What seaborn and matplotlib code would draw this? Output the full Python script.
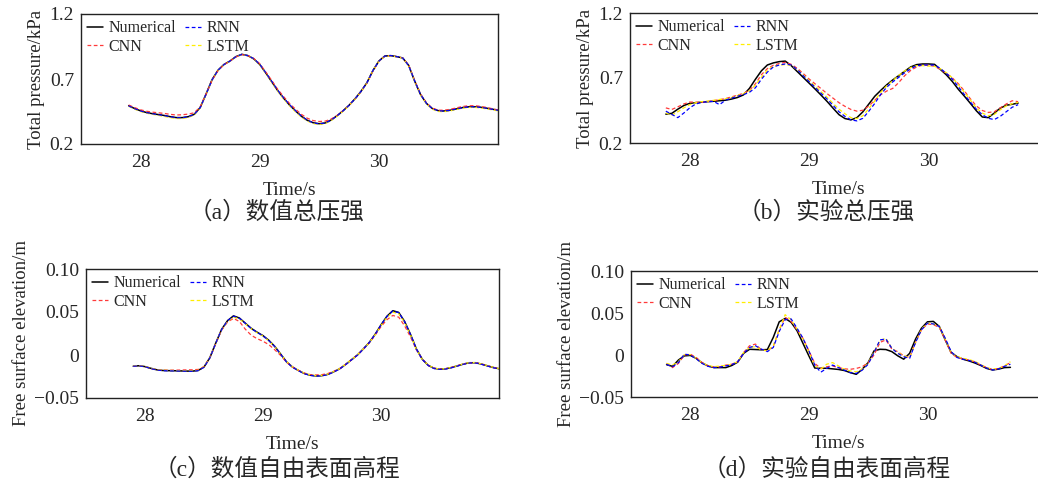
import numpy as np
import pandas as pd
import matplotlib
matplotlib.use("Agg")
import matplotlib.pyplot as plt
import seaborn as sns

# time grids (s)
time_num = np.round(np.arange(27.90, 31.001, 0.05), 2)
time_exp_p = np.round(np.arange(27.80, 30.751, 0.05), 2)
time_exp_h = np.round(np.arange(27.80, 30.701, 0.05), 2)

# (a) numerical total pressure, kPa
pa_numerical = [0.495, 0.473, 0.455, 0.442, 0.433, 0.426, 0.419, 0.410, 0.403, 0.403,
                0.410, 0.428, 0.480, 0.585, 0.695, 0.768, 0.812, 0.838, 0.872, 0.890,
                0.880, 0.855, 0.812, 0.748, 0.680, 0.612, 0.553, 0.500, 0.455, 0.413,
                0.382, 0.363, 0.356, 0.362, 0.385, 0.418, 0.456, 0.498, 0.548, 0.605,
                0.672, 0.765, 0.838, 0.877, 0.880, 0.872, 0.862, 0.805, 0.685, 0.580,
                0.512, 0.472, 0.456, 0.454, 0.460, 0.470, 0.480, 0.486, 0.487, 0.483,
                0.476, 0.468, 0.460]
pa_cnn = [0.500, 0.480, 0.463, 0.452, 0.445, 0.440, 0.435, 0.428, 0.423, 0.425,
          0.430, 0.440, 0.485, 0.585, 0.690, 0.765, 0.810, 0.838, 0.870, 0.888,
          0.880, 0.858, 0.818, 0.755, 0.690, 0.622, 0.565, 0.512, 0.468, 0.428,
          0.398, 0.380, 0.373, 0.376, 0.392, 0.420, 0.456, 0.497, 0.546, 0.602,
          0.668, 0.760, 0.835, 0.875, 0.878, 0.872, 0.862, 0.808, 0.690, 0.585,
          0.515, 0.475, 0.460, 0.460, 0.467, 0.478, 0.488, 0.494, 0.495, 0.490,
          0.482, 0.472, 0.462]
pa_rnn = [0.493, 0.472, 0.454, 0.441, 0.432, 0.425, 0.418, 0.409, 0.402, 0.402,
          0.409, 0.427, 0.478, 0.583, 0.693, 0.767, 0.811, 0.837, 0.871, 0.889,
          0.880, 0.856, 0.813, 0.749, 0.682, 0.614, 0.555, 0.502, 0.456, 0.414,
          0.382, 0.362, 0.355, 0.361, 0.384, 0.417, 0.455, 0.497, 0.547, 0.604,
          0.671, 0.764, 0.837, 0.876, 0.880, 0.872, 0.861, 0.804, 0.686, 0.581,
          0.512, 0.471, 0.455, 0.453, 0.459, 0.469, 0.479, 0.485, 0.486, 0.482,
          0.475, 0.467, 0.459]
pa_lstm = [0.490, 0.468, 0.450, 0.437, 0.428, 0.420, 0.412, 0.403, 0.396, 0.396,
           0.404, 0.423, 0.476, 0.582, 0.693, 0.766, 0.810, 0.836, 0.870, 0.888,
           0.879, 0.854, 0.810, 0.745, 0.676, 0.607, 0.548, 0.494, 0.449, 0.407,
           0.376, 0.357, 0.350, 0.357, 0.380, 0.414, 0.452, 0.495, 0.545, 0.602,
           0.670, 0.763, 0.836, 0.874, 0.878, 0.870, 0.859, 0.802, 0.683, 0.577,
           0.508, 0.467, 0.450, 0.449, 0.455, 0.465, 0.475, 0.481, 0.482, 0.478,
           0.471, 0.463, 0.455]

# (b) experimental total pressure, kPa
pb_numerical = [0.422, 0.428, 0.460, 0.488, 0.505, 0.510, 0.514, 0.518, 0.521, 0.525,
                0.529, 0.538, 0.550, 0.570, 0.620, 0.690, 0.755, 0.800, 0.816, 0.826,
                0.830, 0.795, 0.750, 0.705, 0.660, 0.615, 0.568, 0.520, 0.468, 0.418,
                0.388, 0.378, 0.395, 0.440, 0.500, 0.560, 0.605, 0.648, 0.685, 0.718,
                0.752, 0.785, 0.803, 0.808, 0.808, 0.805, 0.765, 0.723, 0.672, 0.612,
                0.560, 0.505, 0.448, 0.400, 0.395, 0.430, 0.468, 0.490, 0.498, 0.507]
pb_cnn = [0.470, 0.458, 0.478, 0.500, 0.515, 0.514, 0.512, 0.518, 0.526, 0.533,
          0.542, 0.555, 0.568, 0.582, 0.605, 0.655, 0.725, 0.772, 0.798, 0.812,
          0.820, 0.805, 0.775, 0.735, 0.692, 0.655, 0.618, 0.580, 0.545, 0.510,
          0.482, 0.458, 0.445, 0.452, 0.485, 0.530, 0.572, 0.600, 0.620, 0.665,
          0.718, 0.758, 0.785, 0.800, 0.798, 0.790, 0.765, 0.735, 0.700, 0.655,
          0.600, 0.540, 0.485, 0.450, 0.435, 0.440, 0.470, 0.500, 0.525, 0.518]
pb_rnn = [0.445, 0.420, 0.395, 0.430, 0.470, 0.500, 0.512, 0.518, 0.520, 0.495,
          0.530, 0.545, 0.560, 0.572, 0.590, 0.625, 0.690, 0.745, 0.785, 0.800,
          0.808, 0.800, 0.765, 0.718, 0.672, 0.628, 0.582, 0.538, 0.490, 0.440,
          0.405, 0.378, 0.370, 0.390, 0.445, 0.505, 0.575, 0.630, 0.670, 0.705,
          0.740, 0.770, 0.795, 0.800, 0.800, 0.800, 0.772, 0.735, 0.690, 0.632,
          0.572, 0.515, 0.460, 0.418, 0.390, 0.380, 0.405, 0.440, 0.475, 0.495]
pb_lstm = [0.432, 0.415, 0.440, 0.470, 0.495, 0.510, 0.518, 0.522, 0.528, 0.535,
           0.540, 0.550, 0.565, 0.580, 0.600, 0.645, 0.705, 0.760, 0.790, 0.800,
           0.803, 0.797, 0.765, 0.722, 0.680, 0.638, 0.595, 0.552, 0.505, 0.460,
           0.425, 0.395, 0.388, 0.410, 0.465, 0.525, 0.590, 0.640, 0.680, 0.720,
           0.755, 0.780, 0.795, 0.795, 0.792, 0.790, 0.770, 0.740, 0.700, 0.648,
           0.590, 0.530, 0.470, 0.430, 0.410, 0.420, 0.455, 0.485, 0.502, 0.512]

# (c) numerical free surface elevation, m
hc_numerical = [-0.0130, -0.0125, -0.0135, -0.0155, -0.0172, -0.0180, -0.0182, -0.0183, -0.0185, -0.0187,
                -0.0188, -0.0180, -0.0140, -0.0030, 0.0140, 0.0300, 0.0400, 0.0455, 0.0430, 0.0370,
                0.0310, 0.0265, 0.0225, 0.0170, 0.0100, 0.0010, -0.0080, -0.0140, -0.0180, -0.0215,
                -0.0235, -0.0243, -0.0240, -0.0225, -0.0195, -0.0160, -0.0110, -0.0055, 0.0000, 0.0070,
                0.0145, 0.0240, 0.0350, 0.0450, 0.0515, 0.0495, 0.0390, 0.0240, 0.0070, -0.0050,
                -0.0120, -0.0155, -0.0165, -0.0160, -0.0145, -0.0125, -0.0105, -0.0090, -0.0090, -0.0105,
                -0.0125, -0.0145, -0.0160]
hc_cnn = [-0.0130, -0.0125, -0.0135, -0.0155, -0.0170, -0.0176, -0.0177, -0.0176, -0.0175, -0.0173,
          -0.0172, -0.0168, -0.0135, -0.0030, 0.0135, 0.0290, 0.0385, 0.0425, 0.0390, 0.0300,
          0.0230, 0.0190, 0.0160, 0.0120, 0.0060, -0.0005, -0.0085, -0.0140, -0.0178, -0.0210,
          -0.0228, -0.0232, -0.0228, -0.0215, -0.0190, -0.0158, -0.0110, -0.0055, 0.0000, 0.0068,
          0.0140, 0.0230, 0.0330, 0.0410, 0.0460, 0.0440, 0.0340, 0.0210, 0.0060, -0.0050,
          -0.0120, -0.0153, -0.0162, -0.0158, -0.0143, -0.0124, -0.0104, -0.0090, -0.0090, -0.0104,
          -0.0124, -0.0144, -0.0158]
hc_rnn = [-0.0131, -0.0126, -0.0136, -0.0157, -0.0174, -0.0182, -0.0184, -0.0185, -0.0187, -0.0189,
          -0.0190, -0.0182, -0.0142, -0.0032, 0.0138, 0.0298, 0.0398, 0.0452, 0.0428, 0.0368,
          0.0308, 0.0263, 0.0222, 0.0167, 0.0098, 0.0008, -0.0082, -0.0142, -0.0182, -0.0217,
          -0.0237, -0.0245, -0.0242, -0.0227, -0.0197, -0.0162, -0.0112, -0.0057, -0.0002, 0.0068,
          0.0143, 0.0238, 0.0348, 0.0448, 0.0512, 0.0492, 0.0388, 0.0238, 0.0068, -0.0052,
          -0.0122, -0.0157, -0.0167, -0.0162, -0.0147, -0.0127, -0.0107, -0.0092, -0.0092, -0.0107,
          -0.0127, -0.0147, -0.0162]
hc_lstm = [-0.0128, -0.0123, -0.0133, -0.0153, -0.0170, -0.0178, -0.0180, -0.0181, -0.0183, -0.0185,
           -0.0186, -0.0178, -0.0138, -0.0028, 0.0138, 0.0295, 0.0392, 0.0440, 0.0420, 0.0365,
           0.0305, 0.0260, 0.0220, 0.0165, 0.0098, 0.0010, -0.0078, -0.0138, -0.0178, -0.0212,
           -0.0232, -0.0240, -0.0237, -0.0222, -0.0193, -0.0158, -0.0108, -0.0053, 0.0002, 0.0070,
           0.0143, 0.0235, 0.0342, 0.0438, 0.0498, 0.0480, 0.0380, 0.0232, 0.0066, -0.0050,
           -0.0118, -0.0153, -0.0163, -0.0158, -0.0143, -0.0123, -0.0103, -0.0088, -0.0088, -0.0103,
           -0.0123, -0.0143, -0.0158]

# (d) experimental free surface elevation, m
hd_numerical = [-0.0115, -0.0135, -0.0060, -0.0010, -0.0005, -0.0040, -0.0095, -0.0130, -0.0150, -0.0150,
                -0.0150, -0.0125, -0.0085, 0.0020, 0.0068, 0.0065, 0.0062, 0.0065, 0.0210, 0.0395,
                0.0435, 0.0390, 0.0290, 0.0140, -0.0010, -0.0155, -0.0158, -0.0158, -0.0165, -0.0172,
                -0.0185, -0.0210, -0.0230, -0.0170, -0.0090, 0.0050, 0.0068, 0.0065, 0.0040, -0.0010,
                -0.0050, 0.0020, 0.0190, 0.0320, 0.0395, 0.0400, 0.0340, 0.0180, 0.0030, -0.0020,
                -0.0050, -0.0070, -0.0095, -0.0125, -0.0160, -0.0178, -0.0168, -0.0150, -0.0147]
hd_cnn = [-0.0100, -0.0150, -0.0100, 0.0000, 0.0010, -0.0030, -0.0090, -0.0130, -0.0145, -0.0140,
          -0.0120, -0.0110, -0.0080, 0.0030, 0.0110, 0.0130, 0.0060, 0.0050, 0.0100, 0.0300,
          0.0450, 0.0400, 0.0300, 0.0200, 0.0050, -0.0100, -0.0160, -0.0140, -0.0130, -0.0150,
          -0.0165, -0.0170, -0.0160, -0.0140, -0.0090, 0.0000, 0.0150, 0.0180, 0.0070, 0.0040,
          -0.0010, -0.0030, 0.0150, 0.0300, 0.0370, 0.0360, 0.0330, 0.0180, 0.0020, -0.0030,
          -0.0045, -0.0060, -0.0080, -0.0120, -0.0150, -0.0175, -0.0160, -0.0130, -0.0090]
hd_rnn = [-0.0110, -0.0140, -0.0090, 0.0010, 0.0000, -0.0045, -0.0100, -0.0135, -0.0150, -0.0145,
          -0.0130, -0.0115, -0.0080, 0.0020, 0.0090, 0.0110, 0.0070, 0.0040, 0.0090, 0.0280,
          0.0420, 0.0430, 0.0320, 0.0200, 0.0050, -0.0120, -0.0205, -0.0160, -0.0120, -0.0150,
          -0.0180, -0.0210, -0.0220, -0.0180, -0.0110, 0.0030, 0.0180, 0.0190, 0.0080, 0.0020,
          -0.0020, -0.0040, 0.0150, 0.0300, 0.0380, 0.0370, 0.0340, 0.0200, 0.0040, -0.0030,
          -0.0050, -0.0065, -0.0085, -0.0120, -0.0155, -0.0178, -0.0165, -0.0135, -0.0110]
hd_lstm = [-0.0100, -0.0120, -0.0080, 0.0005, 0.0005, -0.0040, -0.0095, -0.0125, -0.0140, -0.0130,
           -0.0125, -0.0110, -0.0080, 0.0030, 0.0090, 0.0100, 0.0060, 0.0050, 0.0110, 0.0300,
           0.0480, 0.0420, 0.0310, 0.0190, 0.0030, -0.0130, -0.0170, -0.0110, -0.0090, -0.0130,
           -0.0170, -0.0190, -0.0200, -0.0170, -0.0100, 0.0040, 0.0170, 0.0200, 0.0080, 0.0030,
           -0.0010, -0.0030, 0.0150, 0.0310, 0.0380, 0.0370, 0.0340, 0.0190, 0.0030, -0.0020,
           -0.0040, -0.0055, -0.0075, -0.0115, -0.0150, -0.0170, -0.0160, -0.0130, -0.0080]

series_names = ["Numerical", "CNN", "RNN", "LSTM"]
series_colors = {"Numerical": "black", "CNN": "#ff3a3a", "RNN": "#0000ff", "LSTM": "#ffee00"}

pressure_ticks = [0.2, 0.7, 1.2]
pressure_ticklabels = ["0.2", "0.7", "1.2"]
height_ticks = [-0.05, 0, 0.05, 0.10]
height_ticklabels = ["\u22120.05", "0", "0.05", "0.10"]
time_ticks = [28, 29, 30]


def draw_panel(ax, t, numerical, cnn, rnn, lstm, ylim, yticks, yticklabels, ylabel):
    df = pd.DataFrame({"t": t, "Numerical": numerical, "CNN": cnn, "RNN": rnn, "LSTM": lstm})
    handles = {}
    # black reference first, models dashed on top
    for name in ["Numerical", "CNN", "LSTM", "RNN"]:
        if name == "Numerical":
            sns.lineplot(data=df, x="t", y=name, ax=ax, color=series_colors[name],
                         lw=1.1, estimator=None, sort=False, label=name)
        else:
            sns.lineplot(data=df, x="t", y=name, ax=ax, color=series_colors[name],
                         lw=0.9, linestyle=(0, (3, 2)), estimator=None, sort=False, label=name)
        handles[name] = ax.get_lines()[-1]
    ax.legend([handles[n] for n in series_names], series_names, loc="upper left",
              ncol=2, frameon=False, fontsize=11.5, handlelength=1.0, handletextpad=0.3,
              columnspacing=0.6, labelspacing=0.15, borderaxespad=0.3, borderpad=0.1)
    ax.set_xlim(27.5, 31.0)
    ax.set_ylim(*ylim)
    ax.set_xticks(time_ticks)
    ax.set_xticklabels([str(v) for v in time_ticks])
    ax.set_yticks(yticks)
    ax.set_yticklabels(yticklabels)
    ax.tick_params(axis="both", direction="in", length=3, width=0.8, labelsize=14, pad=5)
    ax.tick_params(axis="x", pad=7)
    ax.set_xlabel("Time/s", fontsize=14, labelpad=8)
    ax.set_ylabel(ylabel, fontsize=13.5, labelpad=3)
    for sp in ax.spines.values():
        sp.set_visible(True)
        sp.set_color("#222222")
        sp.set_linewidth(1.0)
    ax.grid(False)


sns.set_style("white")
plt.rcParams["font.family"] = ["Liberation Serif", "Noto Sans CJK SC"]
plt.rcParams["axes.unicode_minus"] = True

fig = plt.figure(figsize=(10.38, 4.84), dpi=100)
ax_a = fig.add_axes([81 / 1038, 1 - 144 / 484, 417 / 1038, 130 / 484])
ax_b = fig.add_axes([630 / 1038, 1 - 143 / 484, 418 / 1038, 130 / 484])
ax_c = fig.add_axes([86 / 1038, 1 - 398 / 484, 413 / 1038, 129 / 484])
ax_d = fig.add_axes([631 / 1038, 1 - 397 / 484, 415 / 1038, 126 / 484])

draw_panel(ax_a, time_num, pa_numerical, pa_cnn, pa_rnn, pa_lstm, (0.2, 1.2),
           pressure_ticks, pressure_ticklabels, "Total pressure/kPa")
draw_panel(ax_b, time_exp_p, pb_numerical, pb_cnn, pb_rnn, pb_lstm, (0.2, 1.2),
           pressure_ticks, pressure_ticklabels, "Total pressure/kPa")
draw_panel(ax_c, time_num, hc_numerical, hc_cnn, hc_rnn, hc_lstm, (-0.05, 0.10),
           height_ticks, height_ticklabels, "Free surface elevation/m")
draw_panel(ax_d, time_exp_h, hd_numerical, hd_cnn, hd_rnn, hd_lstm, (-0.05, 0.10),
           height_ticks, height_ticklabels, "Free surface elevation/m")

captions = [("（a）数值总压强", 277, 212), ("（b）实验总压强", 826, 212),
            ("（c）数值自由表面高程", 277, 469), ("（d）实验自由表面高程", 827, 469)]
for text, x, y in captions:
    fig.text(x / 1038, 1 - y / 484, text, ha="center", va="center", fontsize=17)

fig.savefig("out.png", dpi=100)
